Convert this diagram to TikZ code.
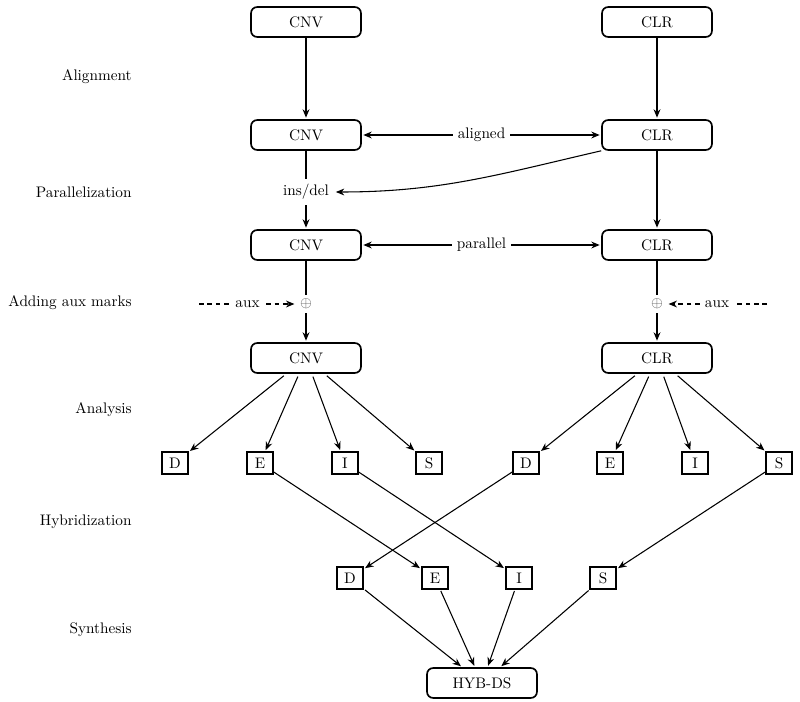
\documentclass[tikz,border=0pt]{standalone}
\usetikzlibrary{arrows.meta}
\begin{document}
\begin{tikzpicture}[x=0.655pt,y=0.655pt,
  big/.style={draw, line width=1.1pt, rounded corners=4pt, minimum width=72pt, minimum height=19.6pt, inner sep=2pt},
  small/.style={draw, line width=1.1pt, minimum width=17pt, minimum height=14pt, inner sep=1pt},
  lbl/.style={anchor=east},
  arr/.style={-{Stealth[length=5.5pt,width=4.5pt]}, line width=0.7pt, shorten >=1pt},
  dbl/.style={{Stealth[length=5.5pt,width=4.5pt]}-{Stealth[length=5.5pt,width=4.5pt]}, line width=0.7pt, shorten >=1pt, shorten <=1pt},
  ln/.style={line width=0.7pt},
  auxarr/.style={arr, dash pattern=on 3pt off 2.5pt},
  mid/.style={fill=white, inner sep=3pt},
  plus/.style={text=black!70, inner sep=2.5pt}]
\useasboundingbox (0,0) rectangle (800,-702);

% stage labels
\node[lbl] (lA) at (137,-77) {Alignment};
\node[lbl] (lP) at (137,-192) {Parallelization};
\node[lbl] (lM) at (137,-303) {Adding aux marks};
\node[lbl] (lN) at (137,-410) {Analysis};
\node[lbl] (lH) at (137,-522) {Hybridization};
\node[lbl] (lS) at (137,-630) {Synthesis};

% big nodes
\node[big] (CNV1) at (306,-22) {CNV};
\node[big] (CLR1) at (657,-22) {CLR};
\node[big] (CNV2) at (306,-135) {CNV};
\node[big] (CLR2) at (657,-135) {CLR};
\node (insdel) at (306,-192) {ins/del};
\node[big] (CNV3) at (306,-245) {CNV};
\node[big] (CLR3) at (657,-245) {CLR};
\node[plus] (plusL) at (306,-304) {$\oplus$};
\node[plus] (plusR) at (657,-304) {$\oplus$};
\coordinate (auxLs) at (199,-304);
\coordinate (auxRs) at (767,-304);
\node[big] (CNV4) at (306,-358) {CNV};
\node[big] (CLR4) at (657,-358) {CLR};

% analysis boxes
\node[small] (D1) at (175,-463) {D};
\node[small] (E1) at (260,-463) {E};
\node[small] (I1) at (345,-463) {I};
\node[small] (S1) at (429,-463) {S};
\node[small] (D2) at (526,-463) {D};
\node[small] (E2) at (610,-463) {E};
\node[small] (I2) at (695,-463) {I};
\node[small] (S2) at (779,-463) {S};

% hybrid boxes
\node[small] (D3) at (350,-578) {D};
\node[small] (E3) at (435,-578) {E};
\node[small] (I3) at (519,-578) {I};
\node[small] (S3) at (603,-578) {S};

\node[big] (HYB) at (482,-683) {HYB-DS};

% alignment
\draw[arr] (CNV1) -- (CNV2);
\draw[arr] (CLR1) -- (CLR2);
\draw[dbl] (CNV2) -- node[mid] {aligned} (CLR2);

% parallelization
\draw[ln] (CNV2) -- (insdel);
\draw[arr] (insdel) -- (CNV3);
\draw[arr] (CLR2.south west) to[out=193,in=0] (insdel.east);
\draw[arr] (CLR2) -- (CLR3);
\draw[dbl] (CNV3) -- node[mid] {parallel} (CLR3);

% aux marks
\draw[ln] (CNV3) -- (plusL);
\draw[arr] (plusL) -- (CNV4);
\draw[ln] (CLR3) -- (plusR);
\draw[arr] (plusR) -- (CLR4);
\draw[auxarr] (auxLs) -- node[mid] {aux} (plusL);
\draw[auxarr] (auxRs) -- node[mid] {aux} (plusR);

% analysis
\foreach \t in {D1,E1,I1,S1} \draw[arr, shorten <=2pt] (CNV4) -- (\t);
\foreach \t in {D2,E2,I2,S2} \draw[arr, shorten <=2pt] (CLR4) -- (\t);

% hybridization
\draw[arr] (E1) -- (E3);
\draw[arr] (I1) -- (I3);
\draw[arr] (D2) -- (D3);
\draw[arr] (S2) -- (S3);

% synthesis
\foreach \t in {D3,E3,I3,S3} \draw[arr, shorten <=1pt] (\t) -- (HYB);
\end{tikzpicture}
\end{document}
